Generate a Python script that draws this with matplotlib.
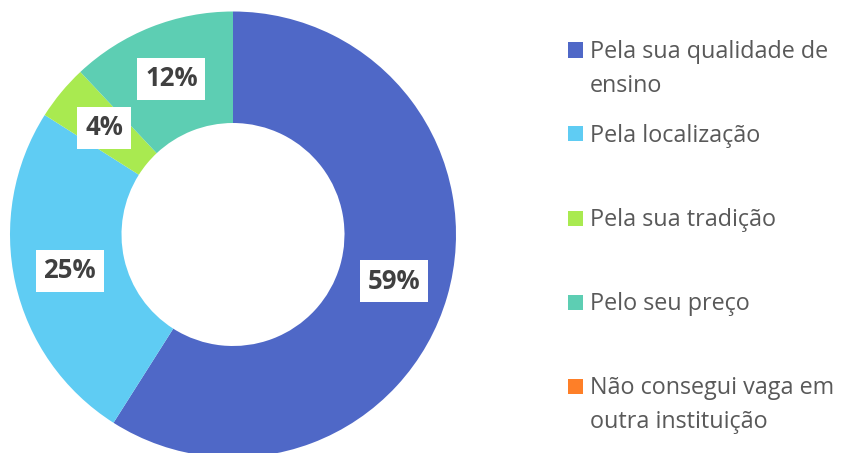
import matplotlib.pyplot as plt
from matplotlib.patches import Rectangle

# dados do gráfico
categorias = ["Pela sua qualidade de\nensino", "Pela localização", "Pela sua tradição",
              "Pelo seu preço", "Não consegui vaga em\noutra instituição"]
valores = [59, 25, 4, 12, 0]
cores = ["#4F68C7", "#5FCCF3", "#A9EA50", "#5DCEB3", "#FE7F28"]

W, H = 849, 453
fig = plt.figure(figsize=(W / 100, H / 100), dpi=100)

# eixo quadrado em pixels: centro (233, 234.5), raio 223
ax = fig.add_axes([10 / W, (H - 457.5) / H, 446 / W, 446 / H])
wedges, textos, pcts = ax.pie(
    valores, colors=cores, startangle=90, counterclock=False, radius=1,
    wedgeprops=dict(width=0.5, linewidth=0),
    autopct=lambda p: f"{p:.0f}%" if p > 0.5 else "",
    pctdistance=0.75,
    textprops=dict(fontsize=18.5, fontweight="bold", color="#404040", family="Open Sans"),
)
for t in pcts:
    t.set_bbox(dict(boxstyle="square,pad=0.3", facecolor="white", edgecolor="none"))
ax.set_xlim(-1, 1)
ax.set_ylim(-1, 1)
ax.set_aspect("equal")
ax.axis("off")

# legenda manual no estilo do Excel
y0 = 50
passo = 84
for i, (nome, cor) in enumerate(zip(categorias, cores)):
    yc = y0 + i * passo
    fig.patches.append(Rectangle((568 / W, 1 - (yc + 7.5) / H), 15 / W, 15 / H,
                                 transform=fig.transFigure, facecolor=cor, edgecolor="none"))
    for j, linha in enumerate(nome.split("\n")):
        fig.text(590 / W, 1 - (yc + 8 + j * 34) / H, linha, fontsize=16.8,
                 color="#595959", family="Open Sans", ha="left", va="baseline")

fig.savefig("out.png", dpi=100)
